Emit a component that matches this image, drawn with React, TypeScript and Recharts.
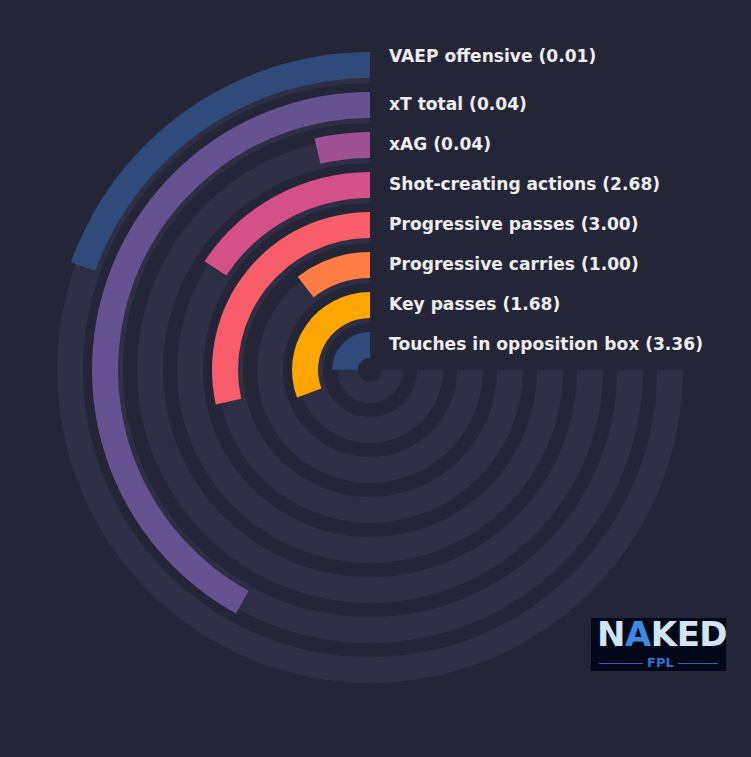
import React from "react";
import { RadialBarChart, RadialBar, PolarAngleAxis, PolarRadiusAxis, Cell, LabelList } from "recharts";

// rings listed from the centre outwards
const metrics = [
  "Touches in opposition box",
  "Key passes",
  "Progressive carries",
  "Progressive passes",
  "Shot-creating actions",
  "xAG",
  "xT total",
  "VAEP offensive",
];
const rawValues = [3.36, 1.68, 1.0, 3.0, 2.68, 0.04, 0.04, 0.01];
const percentiles = [33, 41, 14, 38, 21, 5, 56, 26];
const colors = ["#2f4b7c", "#ffa600", "#ff7c43", "#f95d6a", "#d45087", "#a05195", "#665191", "#2f4b7c"];

const BG = "#252538";
const TRACK = "#2e2e44";
const W = 751;
const H = 757;
const CX = 370;
const CY = 370;

const barData = metrics.map((m, i) => ({
  name: m,
  pct: percentiles[i],
  text: `${m} (${rawValues[i].toFixed(2)})`,
}));
const trackData = metrics.map((m) => ({ name: m, full: 100 }));

const renderLabel = (props: any) => {
  const { viewBox, value } = props;
  if (!viewBox) return null;
  const r = (viewBox.innerRadius + viewBox.outerRadius) / 2;
  const outermost = value === barData[barData.length - 1].text;
  const y = viewBox.cy - r - (outermost ? 9.5 : 1.3);
  return (
    <text
      x={viewBox.cx + 19}
      y={y}
      dominantBaseline="central"
      fill="#eeeeee"
      fontFamily="DejaVu Sans"
      fontWeight="bold"
      fontSize={17.1}
    >
      {value}
    </text>
  );
};

function Logo() {
  return (
    <div
      style={{
        position: "absolute",
        left: 591,
        top: 618,
        width: 135,
        height: 53,
        background: "#030818",
        fontFamily: "DejaVu Sans",
      }}
    >
      <div
        style={{
          position: "absolute",
          left: 6,
          top: -1,
          fontSize: 34,
          fontWeight: "bold",
          letterSpacing: -0.5,
          color: "#cfe5f4",
          lineHeight: 1,
        }}
      >
        N<span style={{ color: "#3b8be0" }}>A</span>KED
      </div>
      <div style={{ position: "absolute", left: 8, right: 8, top: 45, height: 1, background: "#2a64c0" }} />
      <div
        style={{
          position: "absolute",
          left: 52,
          top: 38,
          padding: "0 4px",
          background: "#030818",
          color: "#2f72d8",
          fontSize: 13,
          fontWeight: "bold",
          lineHeight: "14px",
        }}
      >
        FPL
      </div>
    </div>
  );
}

export default function App() {
  return (
    <div style={{ position: "fixed", left: 0, top: 0, width: W, height: H, background: BG, overflow: "hidden" }}>
      {/* background tracks, sitting slightly inside the bars */}
      <div style={{ position: "absolute", left: 0, top: 0 }}>
        <RadialBarChart
          width={W}
          height={H}
          cx={CX}
          cy={CY}
          innerRadius={0}
          outerRadius={320}
          startAngle={90}
          endAngle={360}
          data={trackData}
          barSize={26}
          margin={{ top: 0, right: 0, bottom: 0, left: 0 }}
        >
          <PolarAngleAxis type="number" domain={[0, 100]} tick={false} axisLine={false} />
          <PolarRadiusAxis type="category" tick={false} axisLine={false} />
          <RadialBar dataKey="full" fill={TRACK} isAnimationActive={false} />
        </RadialBarChart>
      </div>
      <div style={{ position: "absolute", left: 0, top: 0 }}>
        <RadialBarChart
          width={W}
          height={H}
          cx={CX}
          cy={CY}
          innerRadius={5}
          outerRadius={325}
          startAngle={90}
          endAngle={360}
          data={barData}
          barSize={26}
          margin={{ top: 0, right: 0, bottom: 0, left: 0 }}
        >
          <PolarAngleAxis type="number" domain={[0, 100]} tick={false} axisLine={false} />
          <PolarRadiusAxis type="category" tick={false} axisLine={false} />
          <RadialBar dataKey="pct" isAnimationActive={false}>
            {barData.map((_, i) => (
              <Cell key={i} fill={colors[i]} />
            ))}
            <LabelList dataKey="text" content={renderLabel} />
          </RadialBar>
        </RadialBarChart>
      </div>
      <svg width={W} height={H} style={{ position: "absolute", left: 0, top: 0, pointerEvents: "none" }}>
        <circle cx={CX} cy={CY} r={12} fill={BG} />
      </svg>
      <Logo />
    </div>
  );
}
